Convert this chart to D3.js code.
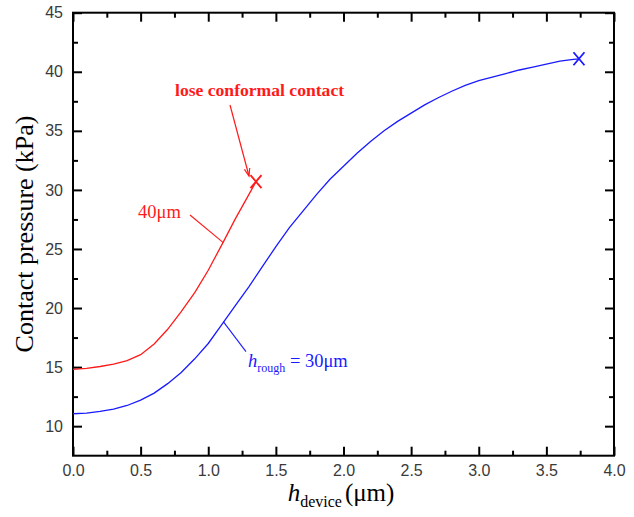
<!DOCTYPE html>
<html><head><meta charset="utf-8">
<script src="https://cdn.jsdelivr.net/npm/d3@7"></script>
<style>body{margin:0;background:#fff}svg{display:block}</style>
</head><body>
<svg id="chart" width="634" height="517"></svg>
<script>
// data
const redX = [0, 0.1, 0.2, 0.3, 0.4, 0.5, 0.6, 0.7, 0.8, 0.9, 1.0, 1.1, 1.2, 1.3, 1.353];
const redY = [14.8, 14.9, 15.05, 15.25, 15.55, 16.05, 16.95, 18.2, 19.7, 21.3, 23.2, 25.35, 27.55, 29.6, 30.7];
const blueX = [0, 0.1, 0.2, 0.3, 0.4, 0.5, 0.6, 0.7, 0.8, 0.9, 1.0, 1.1, 1.2, 1.3, 1.4, 1.5, 1.6, 1.7, 1.8, 1.9, 2.0, 2.1, 2.2, 2.3, 2.4, 2.5, 2.6, 2.7, 2.8, 2.9, 3.0, 3.1, 3.2, 3.3, 3.4, 3.5, 3.6, 3.7, 3.741];
const blueY = [11.05, 11.1, 11.25, 11.45, 11.75, 12.2, 12.8, 13.6, 14.55, 15.7, 17.0, 18.6, 20.2, 21.8, 23.5, 25.2, 26.8, 28.2, 29.6, 30.9, 32.0, 33.1, 34.1, 35.0, 35.8, 36.5, 37.2, 37.8, 38.35, 38.85, 39.25, 39.55, 39.85, 40.15, 40.4, 40.65, 40.9, 41.05, 41.1];
const xTicks = [0, 0.5, 1.0, 1.5, 2.0, 2.5, 3.0, 3.5, 4.0];
const xMinor = [0.25, 0.75, 1.25, 1.75, 2.25, 2.75, 3.25, 3.75];
const yTicks = [10, 15, 20, 25, 30, 35, 40, 45];
const yMinor = [12.5, 17.5, 22.5, 27.5, 32.5, 37.5, 42.5];
const lossPoint = [1.353, 30.7];
const endPoint = [3.741, 41.1];

const svg = d3.select("#chart");
const L = 73, R = 614, T = 12.7, B = 455.7;
const x = d3.scaleLinear().domain([0, 4]).range([L, R]);
const y = d3.scaleLinear().domain([7.5, 45]).range([B, T]);

function axis(gen, ticks, size, tr, labels) {
  const g = svg.append("g").attr("transform", tr)
    .call(gen.tickValues(ticks).tickSizeInner(size).tickSizeOuter(0).tickFormat(labels ? d3.format(labels) : ""));
  g.select(".domain").remove();
  g.selectAll(".tick line").attr("stroke", "#000").attr("stroke-width", 2);
  g.selectAll(".tick text").attr("font-family", "Liberation Sans, Arial, sans-serif").attr("font-size", 16).attr("fill", "#3a3a3a");
  return g;
}
const gxb = axis(d3.axisBottom(x), xTicks, -9, `translate(0,${B})`, ".1f");
gxb.selectAll(".tick text").attr("y", 9).attr("dy", "0.71em");
axis(d3.axisBottom(x), xMinor, -5, `translate(0,${B})`, null);
axis(d3.axisTop(x), xTicks, -9, `translate(0,${T})`, null);
axis(d3.axisTop(x), xMinor, -5, `translate(0,${T})`, null);
const gyl = axis(d3.axisLeft(y), yTicks, -9, `translate(${L},0)`, "d");
gyl.selectAll(".tick text").attr("x", -10);
axis(d3.axisLeft(y), yMinor, -5, `translate(${L},0)`, null);
axis(d3.axisRight(y), yTicks, -9, `translate(${R},0)`, null);
axis(d3.axisRight(y), yMinor, -5, `translate(${R},0)`, null);

svg.append("rect").attr("x", L).attr("y", T).attr("width", R - L).attr("height", B - T)
  .attr("fill", "none").attr("stroke", "#000").attr("stroke-width", 2);

const line = d3.line().x(d => x(d[0])).y(d => y(d[1]));
const redData = redX.map((v, i) => [v, redY[i]]);
const blueData = blueX.map((v, i) => [v, blueY[i]]);
svg.append("path").attr("d", line(redData)).attr("fill", "none").attr("stroke", "#ff1a1a").attr("stroke-width", 1.3);
svg.append("path").attr("d", line(blueData)).attr("fill", "none").attr("stroke", "#1a1aff").attr("stroke-width", 1.3);

function cross(p, color) {
  const cx = x(p[0]), cy = y(p[1]), s = 5.5, t = 6.5;
  svg.append("path").attr("d", `M${cx - s},${cy - t}L${cx + s},${cy + t}M${cx - s},${cy + t}L${cx + s},${cy - t}`)
    .attr("stroke", color).attr("stroke-width", 1.8).attr("fill", "none");
}
cross(lossPoint, "#ff1a1a");
cross(endPoint, "#1a1aff");

const serif = "Liberation Serif, Times New Roman, serif";
// annotations
svg.append("text").attr("x", 175).attr("y", 96).attr("font-family", serif).attr("font-weight", "bold")
  .attr("font-size", 17.6).attr("fill", "#ff1a1a").text("lose conformal contact");
// arrow
const ax0 = 230, ay0 = 105, ax1 = 249, ay1 = 176;
svg.append("line").attr("x1", ax0).attr("y1", ay0).attr("x2", ax1).attr("y2", ay1).attr("stroke", "#ff1a1a").attr("stroke-width", 1.2);
const ang = Math.atan2(ay1 - ay0, ax1 - ax0), hl = 8, ha = 0.35;
svg.append("path").attr("d", `M${ax1 - hl * Math.cos(ang - ha)},${ay1 - hl * Math.sin(ang - ha)}L${ax1},${ay1}L${ax1 - hl * Math.cos(ang + ha)},${ay1 - hl * Math.sin(ang + ha)}`)
  .attr("stroke", "#ff1a1a").attr("stroke-width", 1.2).attr("fill", "none");

svg.append("text").attr("x", 138).attr("y", 218).attr("font-family", serif).attr("font-size", 18.5).attr("fill", "#ff1a1a").text("40μm");
svg.append("line").attr("x1", 190).attr("y1", 215).attr("x2", 223.3).attr("y2", 242.7).attr("stroke", "#ff1a1a").attr("stroke-width", 1.1);

const bt = svg.append("text").attr("x", 248).attr("y", 367).attr("font-family", serif).attr("font-size", 18.5).attr("fill", "#1a1aff");
bt.append("tspan").attr("font-style", "italic").text("h");
bt.append("tspan").attr("font-size", 12).attr("dy", 5).text("rough");
bt.append("tspan").attr("dy", -5).text(" = 30μm");
svg.append("line").attr("x1", 223.3).attr("y1", 321.7).attr("x2", 246).attr("y2", 351.7).attr("stroke", "#1a1aff").attr("stroke-width", 1.1);

// axis titles
svg.append("text").attr("transform", "translate(33,234) rotate(-90)").attr("text-anchor", "middle")
  .attr("font-family", serif).attr("font-size", 26).attr("fill", "#000").text("Contact pressure (kPa)");
const xt = svg.append("text").attr("x", 341).attr("y", 501).attr("text-anchor", "middle")
  .attr("font-family", serif).attr("font-size", 25).attr("fill", "#000");
xt.append("tspan").attr("font-style", "italic").text("h");
xt.append("tspan").attr("font-size", 16).attr("dy", 6).text("device");
xt.append("tspan").attr("dy", -6).attr("dx", 3).text("(μm)");
</script>
</body></html>
